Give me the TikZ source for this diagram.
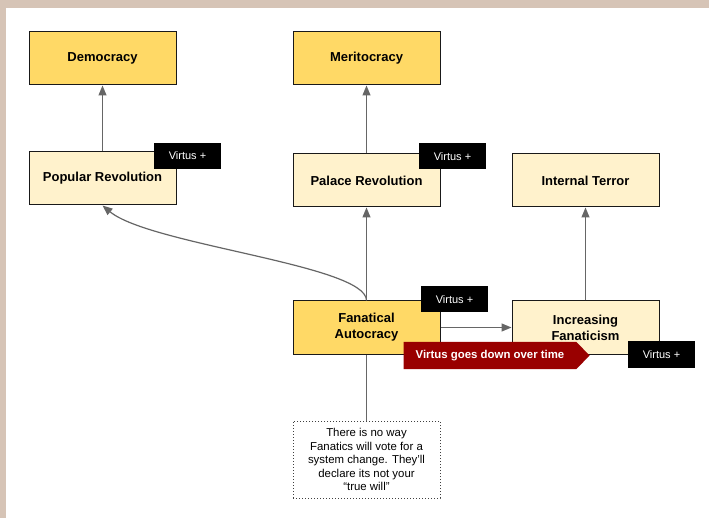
\documentclass[tikz,border=0pt]{standalone}
\usepackage{fontspec}
\setmainfont{Liberation Sans}
\usepackage{tikz}
\usetikzlibrary{arrows.meta, shapes.symbols}
\definecolor{gold}{HTML}{FFD966}
\definecolor{cream}{HTML}{FFF2CC}
\definecolor{darkred}{HTML}{990000}
\definecolor{edgegray}{HTML}{666666}
\definecolor{slideedge}{RGB}{214,196,182}

\begin{document}
\begin{tikzpicture}[x=1pt, y=-1pt,
    state/.style={draw=black!90, line width=1pt, minimum width=147pt, minimum height=53pt,
        align=center, font=\bfseries\fontsize{13}{16}\selectfont},
    goal/.style={state, fill=gold},
    stage/.style={state, fill=cream},
    virtus/.style={fill=black, text=white, minimum width=67pt, minimum height=26pt,
        inner sep=0pt, font=\fontsize{11}{13}\selectfont},
    flow/.style={draw=edgegray, line width=1.2pt, -{Triangle[length=10pt, width=8pt]}}]
            \fill[slideedge] (0,0) rectangle (709,518);
            \fill[white] (6,8) rectangle (709,518);
            % states
            \node[goal] (Dem) at (102.5,58.5) {Democracy};
            \node[goal] (Mer) at (366.5,58.5) {Meritocracy};
            \node[stage] (PopRev) at (102.5,178.5) {Popular Revolution};
            \node[stage] (PalRev) at (366.5,180.5) {Palace Revolution};
            \node[stage] (Terror) at (585.5,180.5) {Internal Terror};
            \node[goal] (FanAut) at (366.5,327.5) {Fanatical\\Autocracy};
            \node[stage] (IncFan) at (585.5,327.5) {Increasing\\Fanaticism};
            \node[draw=black!75, dotted, line width=1pt, minimum width=147pt, minimum height=77pt,
                align=center, font=\fontsize{11.4}{13.5}\selectfont] (Note) at (366.5,459.5)
                {There is no way\\Fanatics will vote for a\\system change. They’ll\\declare its not your\\“true will”};
            % edges
            \draw[flow] (PopRev) -- (Dem);
            \draw[flow] (PalRev) -- (Mer);
            \draw[flow] (FanAut) -- (PalRev);
            \draw[flow] (FanAut.north) .. controls (366.5,265) and (150,245) .. (PopRev.south);
            \draw[flow] (FanAut) -- (IncFan);
            \draw[flow] (IncFan) -- (Terror);
            \draw[draw=edgegray, line width=1.2pt] (Note) -- (FanAut);
            % virtus tags
            \node[virtus] (vPop) at (187.5,156) {Virtus +};
            \node[virtus] (vPal) at (452.5,156.5) {Virtus +};
            \node[virtus] (vFan) at (454.5,299.5) {Virtus +};
            \node[virtus] (vInc) at (661.5,354.5) {Virtus +};
            \node[signal, signal to=east, signal pointer angle=92, fill=darkred, text=white,
                minimum width=186pt, minimum height=27pt, inner sep=0pt,
                font=\bfseries\fontsize{11.4}{13}\selectfont] (Down) at (490,355.5) {Virtus goes down over time};
        \end{tikzpicture}
\end{document}
